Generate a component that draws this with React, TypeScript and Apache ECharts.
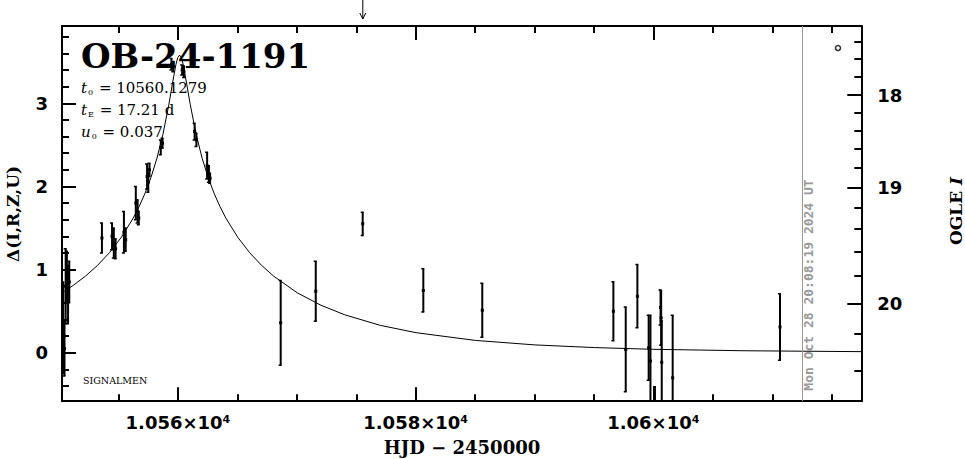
import React, { useEffect, useRef } from 'react';
import * as echarts from 'echarts';

const W = 965;
const H = 459;

// Observations: time (HJD-2450000), Δ value, error
const obsT = [10550.35, 10550.45, 10550.55, 10550.65, 10550.75, 10550.85,
  10553.6, 10554.45, 10554.6, 10554.75, 10555.45, 10555.6,
  10556.45, 10556.6, 10556.7, 10557.4, 10557.5, 10557.6, 10558.55, 10558.7,
  10559.45, 10559.6, 10560.35, 10560.5,
  10561.4, 10561.55, 10562.45, 10562.6, 10562.7,
  10568.64, 10571.59, 10575.54, 10580.64, 10585.6,
  10596.63, 10597.67, 10598.65, 10599.6, 10599.75, 10600.13,
  10600.6, 10600.65, 10600.7, 10601.62, 10610.65];
const obsV = [0.30, 0.05, 0.80, 0.92, 0.70, 0.85,
  1.38, 1.40, 1.32, 1.25, 1.45, 1.36,
  1.80, 1.70, 1.62, 2.12, 2.05, 2.20, 2.47, 2.52,
  3.47, 3.44, 3.40, 3.38,
  2.66, 2.56, 2.25, 2.15, 2.10,
  0.36, 0.74, 1.55, 0.75, 0.51,
  0.50, 0.04, 0.68, 0.06, -0.10, -0.80,
  0.545, 0.42, -0.115, -0.30, 0.31];
const obsErr = [0.55, 0.33, 0.45, 0.30, 0.35, 0.25,
  0.18, 0.16, 0.18, 0.12, 0.25, 0.14,
  0.20, 0.14, 0.08, 0.15, 0.12, 0.08, 0.09, 0.06,
  0.07, 0.06, 0.06, 0.07,
  0.10, 0.08, 0.16, 0.10, 0.06,
  0.51, 0.36, 0.14, 0.26, 0.325,
  0.355, 0.51, 0.38, 0.39, 0.55, 0.39,
  0.21, 0.33, 0.50, 0.75, 0.40];

// Model curve
const modelT = [10550.24, 10551.23, 10552.23, 10553.23, 10554.23, 10555.23, 10556.23, 10556.73,
  10557.23, 10557.73, 10558.23, 10558.73, 10559.23, 10559.53, 10559.83, 10559.98, 10560.13,
  10560.28, 10560.43, 10560.73, 10561.03, 10561.53, 10562.03, 10562.53, 10563.03, 10563.53,
  10564.03, 10565.03, 10566.03, 10567.03, 10568.03, 10570.03, 10572.03, 10574.03, 10577.03,
  10580.03, 10585.03, 10590.03, 10595.03, 10600.03, 10607.53, 10617.49];
const modelV = [0.72, 0.815, 0.923, 1.051, 1.203, 1.388, 1.619, 1.758,
  1.92, 2.11, 2.34, 2.625, 2.985, 3.236, 3.47, 3.551, 3.58,
  3.551, 3.47, 3.236, 2.985, 2.625, 2.34, 2.11, 1.92, 1.758,
  1.619, 1.388, 1.203, 1.051, 0.923, 0.721, 0.571, 0.456, 0.329,
  0.241, 0.148, 0.094, 0.062, 0.041, 0.024, 0.013];

const xMajorTicks = [10560, 10580, 10600];
const xTickLabels = ['1.056×10⁴', '1.058×10⁴', '1.06×10⁴'];
const xMinorTicks = [10555, 10565, 10570, 10575, 10585, 10590, 10595, 10605, 10610, 10615];
const yMajorTicks = [0, 1, 2, 3];
const yTickLabels = ['0', '1', '2', '3'];
const yMinorTicks = [-0.4, -0.2, 0.2, 0.4, 0.6, 0.8, 1.2, 1.4, 1.6, 1.8, 2.2, 2.4, 2.6, 2.8, 3.2, 3.4, 3.6, 3.8];
// OGLE I magnitude ticks (right axis), positioned in Δ units
const magMajorLabels = ['18', '19', '20'];
const magMajorDelta = [3.100, 1.985, 0.594];
const magMinorDelta = [3.741, 3.533, 3.320, 2.887, 2.671, 2.450, 2.225, 1.744, 1.492, 1.215, 0.926, 0.233, -0.220];

const nowT = 10612.5;
const arrowT = 10575.55;
const markerT = [10615.53];
const markerV = [3.665];

const X_MIN = 10550.24;
const X_MAX = 10617.49;
const Y_MIN = -0.583;
const Y_MAX = 3.93;

const BLACK = '#000';
const LABEL_FONT = 'DejaVu Sans';
const TITLE_FONT = 'DejaVu Serif';

function findLabel(vals: number[], labels: string[], v: number) {
  for (let i = 0; i < vals.length; i++) if (Math.abs(vals[i] - v) < 1e-6) return labels[i];
  return '';
}

export default function App() {
  const ref = useRef<HTMLDivElement>(null);
  useEffect(() => {
    if (!ref.current) return;
    const chart = echarts.init(ref.current, null, { renderer: 'svg' });
    const xBase = {
      type: 'value', min: X_MIN, max: X_MAX, splitLine: { show: false },
    };
    const yBase = {
      type: 'value', min: Y_MIN, max: Y_MAX, splitLine: { show: false },
    };
    const lineStyle = { color: BLACK, width: 2 };
    const option: any = {
      animation: false,
      backgroundColor: '#fff',
      grid: { left: 62, right: 103.7, top: 26, bottom: 57.8, containLabel: false, outerBoundsMode: 'none' },
      xAxis: [
        {
          ...xBase, position: 'bottom',
          axisLine: { show: true, onZero: false, lineStyle },
          axisTick: { show: true, inside: true, length: 14, lineStyle, customValues: xMajorTicks },
          axisLabel: {
            show: true, customValues: xMajorTicks, margin: 12, color: BLACK, fontSize: 18, fontWeight: 'bold', fontFamily: LABEL_FONT,
            formatter: (v: number) => findLabel(xMajorTicks, xTickLabels, v),
          },
        },
        {
          ...xBase, position: 'bottom',
          axisLine: { show: false, onZero: false },
          axisTick: { show: true, inside: true, length: 7, lineStyle, customValues: xMinorTicks },
          axisLabel: { show: false },
        },
        {
          ...xBase, position: 'top',
          axisLine: { show: true, onZero: false, lineStyle },
          axisTick: { show: true, inside: true, length: 14, lineStyle, customValues: xMajorTicks },
          axisLabel: { show: false },
        },
        {
          ...xBase, position: 'top',
          axisLine: { show: false, onZero: false },
          axisTick: { show: true, inside: true, length: 7, lineStyle, customValues: xMinorTicks },
          axisLabel: { show: false },
        },
      ],
      yAxis: [
        {
          ...yBase, position: 'left',
          axisLine: { show: true, onZero: false, lineStyle },
          axisTick: { show: true, inside: true, length: 14, lineStyle, customValues: yMajorTicks },
          axisLabel: {
            show: true, customValues: yMajorTicks, margin: 14, color: BLACK, fontSize: 18, fontWeight: 'bold', fontFamily: LABEL_FONT,
            formatter: (v: number) => findLabel(yMajorTicks, yTickLabels, v),
          },
        },
        {
          ...yBase, position: 'left',
          axisLine: { show: false, onZero: false },
          axisTick: { show: true, inside: true, length: 7, lineStyle, customValues: yMinorTicks },
          axisLabel: { show: false },
        },
        {
          ...yBase, position: 'right',
          axisLine: { show: true, onZero: false, lineStyle },
          axisTick: { show: true, inside: true, length: 14, lineStyle, customValues: magMajorDelta },
          axisLabel: {
            show: true, customValues: magMajorDelta, margin: 16, color: BLACK, fontSize: 18, fontWeight: 'bold', fontFamily: LABEL_FONT,
            formatter: (v: number) => findLabel(magMajorDelta, magMajorLabels, v),
          },
        },
        {
          ...yBase, position: 'right',
          axisLine: { show: false, onZero: false },
          axisTick: { show: true, inside: true, length: 7, lineStyle, customValues: magMinorDelta },
          axisLabel: { show: false },
        },
      ],
      series: [
        {
          type: 'line', name: 'model', xAxisIndex: 0, yAxisIndex: 0,
          data: modelT.map((t, i) => [t, modelV[i]]),
          showSymbol: false, symbol: 'none', smooth: false,
          lineStyle: { color: BLACK, width: 1 },
          clip: true, silent: true, z: 2,
          markLine: {
            silent: true, symbol: ['none', 'none'], label: { show: false },
            lineStyle: { color: '#999', width: 1, type: 'solid' },
            data: [{ xAxis: nowT }],
          },
        },
        {
          type: 'custom', name: 'obs', xAxisIndex: 0, yAxisIndex: 0,
          clip: true, z: 3,
          data: obsT.map((t, i) => [t, obsV[i], obsErr[i]]),
          encode: { x: 0, y: 1 },
          renderItem: (params: any, api: any) => {
            const t = api.value(0), v = api.value(1), e = api.value(2);
            const top = api.coord([t, v + e]);
            const bot = api.coord([t, v - e]);
            const c = api.coord([t, v]);
            return {
              type: 'group',
              children: [
                { type: 'line', shape: { x1: top[0], y1: top[1], x2: bot[0], y2: bot[1] }, style: { stroke: BLACK, lineWidth: 2 } },
                { type: 'line', shape: { x1: top[0] - 2, y1: top[1], x2: top[0] + 1, y2: top[1] }, style: { stroke: BLACK, lineWidth: 1.5 } },
                { type: 'line', shape: { x1: bot[0] - 2, y1: bot[1], x2: bot[0] + 1, y2: bot[1] }, style: { stroke: BLACK, lineWidth: 1.5 } },
                { type: 'rect', shape: { x: c[0] - 1.5, y: c[1] - 1.5, width: 3, height: 3 }, style: { fill: BLACK } },
              ],
            };
          },
        },
        {
          type: 'scatter', name: 'marker', xAxisIndex: 0, yAxisIndex: 0,
          data: markerT.map((t, i) => [t, markerV[i]]),
          symbol: 'circle', symbolSize: 5,
          itemStyle: { color: '#fff', borderColor: BLACK, borderWidth: 1.6 },
          silent: true, z: 4,
        },
      ],
    };
    chart.setOption(option);

    const ax = chart.convertToPixel({ xAxisIndex: 0 }, arrowT) as number;
    const nx = chart.convertToPixel({ xAxisIndex: 0 }, nowT) as number;
    const serif = 'DejaVu Serif';
    const paramRich = {
      i: { fontStyle: 'italic', fontFamily: serif, fontSize: 15, fill: BLACK, color: BLACK },
      s: { fontFamily: serif, fontSize: 8, fill: BLACK, color: BLACK, padding: [9, 1, 0, 1] },
      n: { fontFamily: serif, fontSize: 15, fill: BLACK, color: BLACK },
    };
    const paramText = (text: string, y: number) => ({
      type: 'text', x: 81, y,
      style: { text, rich: paramRich, fill: BLACK, fontFamily: serif, fontSize: 15, align: 'left', textAlign: 'left', verticalAlign: 'middle', textVerticalAlign: 'middle' },
    });
    chart.setOption({
      graphic: [
        {
          type: 'text', x: 81, y: 56,
          style: { text: 'OB-24-1191', fill: BLACK, fontFamily: TITLE_FONT, fontWeight: 'bold', fontSize: 34, align: 'left', textAlign: 'left', verticalAlign: 'middle', textVerticalAlign: 'middle' },
        },
        paramText('{i|t}{s|0}{n| = 10560.1279}', 88),
        paramText('{i|t}{s|E}{n| = 17.21 d}', 110),
        paramText('{i|u}{s|0}{n| = 0.037}', 132),
        {
          type: 'text', x: 83, y: 380,
          style: { text: 'SIGNALMEN', fill: BLACK, fontFamily: serif, fontSize: 9.5, align: 'left', textAlign: 'left', verticalAlign: 'middle', textVerticalAlign: 'middle' },
        },
        {
          type: 'text', x: 13, y: 214, rotation: Math.PI / 2,
          style: { text: 'Δ(I,R,Z,U)', fill: BLACK, fontFamily: TITLE_FONT, fontWeight: 'bold', fontSize: 17, align: 'center', textAlign: 'center', verticalAlign: 'middle', textVerticalAlign: 'middle' },
        },
        {
          type: 'text', x: 462, y: 447,
          style: { text: 'HJD − 2450000', fill: BLACK, fontFamily: TITLE_FONT, fontWeight: 'bold', fontSize: 18, align: 'center', textAlign: 'center', verticalAlign: 'middle', textVerticalAlign: 'middle' },
        },
        {
          type: 'text', x: 956, y: 211, rotation: Math.PI / 2,
          style: {
            text: '{a|OGLE }{b|I}', fill: BLACK, align: 'center', textAlign: 'center', verticalAlign: 'middle', textVerticalAlign: 'middle',
            rich: {
              a: { fontFamily: TITLE_FONT, fontWeight: 'bold', fontSize: 17, fill: BLACK, color: BLACK },
              b: { fontFamily: TITLE_FONT, fontWeight: 'bold', fontStyle: 'italic', fontSize: 17, fill: BLACK, color: BLACK },
            },
          },
        },
        {
          type: 'text', x: nx + 7, y: 285, rotation: Math.PI / 2,
          style: { text: 'Mon Oct 28 20:08:19 2024 UT', fill: '#999', fontFamily: 'DejaVu Sans Mono', fontWeight: 'bold', fontSize: 13, align: 'center', textAlign: 'center', verticalAlign: 'middle', textVerticalAlign: 'middle' },
        },
        {
          type: 'line', shape: { x1: ax, y1: 0, x2: ax, y2: 19 }, style: { stroke: BLACK, lineWidth: 1 },
        },
        {
          type: 'polyline', shape: { points: [[ax - 3, 13], [ax, 19], [ax + 3, 13]] }, style: { stroke: BLACK, lineWidth: 1, fill: 'none' },
        },
      ],
    });
    return () => chart.dispose();
  }, []);
  return <div ref={ref} style={{ position: 'fixed', left: 0, top: 0, width: W, height: H }} />;
}
